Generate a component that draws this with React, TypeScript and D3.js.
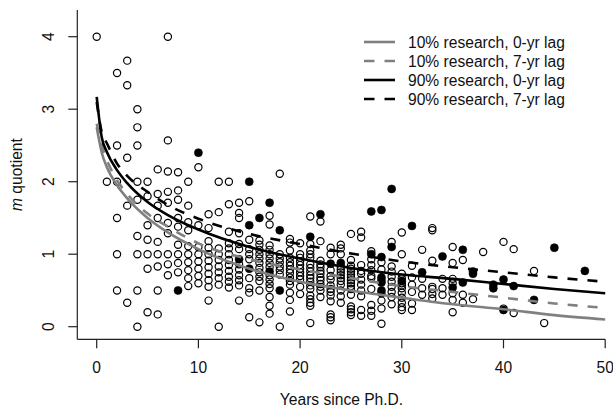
import React from "react";
import * as d3 from "d3";

// ---- data ----
const xTicks = [0, 10, 20, 30, 40, 50];
const yTicks = [0, 1, 2, 3, 4];

const openPoints: [number, number][] = [
  [0, 4.0], [1, 2.0],
  [2, 3.5], [2, 2.5], [2, 2.0], [2, 1.5], [2, 1.0], [2, 0.5],
  [3, 3.67], [3, 3.33], [3, 2.33], [3, 1.67], [3, 0.33],
  [4, 3.0], [4, 2.75], [4, 2.5], [4, 2.0], [4, 1.75], [4, 1.25], [4, 1.0], [4, 0.5], [4, 0.0],
  [5, 2.0], [5, 1.8], [5, 1.4], [5, 1.2], [5, 1.0], [5, 0.8], [5, 0.2],
  [6, 2.17], [6, 1.83], [6, 1.67], [6, 1.5], [6, 1.17], [6, 1.0], [6, 0.83], [6, 0.5], [6, 0.17],
  [7, 4.0], [7, 2.57], [7, 2.14], [7, 1.86], [7, 1.71], [7, 1.43], [7, 1.29], [7, 1.0], [7, 0.86], [7, 0.71],
  [8, 2.13], [8, 1.88], [8, 1.75], [8, 1.5], [8, 1.38], [8, 1.13], [8, 1.0], [8, 0.88], [8, 0.75],
  [9, 2.0], [9, 1.67], [9, 1.44], [9, 1.33], [9, 1.11], [9, 1.0], [9, 0.89], [9, 0.78], [9, 0.67], [9, 0.56],
  [10, 2.2], [10, 1.4], [10, 1.1], [10, 1.0], [10, 0.9], [10, 0.8], [10, 0.7], [10, 0.6],
  [11, 1.55], [11, 1.36], [11, 1.18], [11, 1.09], [11, 1.0], [11, 0.91], [11, 0.82], [11, 0.73], [11, 0.64], [11, 0.55], [11, 0.36],
  [12, 2.0], [12, 1.58], [12, 1.08], [12, 1.0], [12, 0.92], [12, 0.83], [12, 0.75], [12, 0.67], [12, 0.58], [12, 0.0],
  [13, 2.0], [13, 1.69], [13, 1.31], [13, 1.15], [13, 1.08], [13, 1.0], [13, 0.92], [13, 0.85], [13, 0.77], [13, 0.69], [13, 0.62], [13, 0.54],
  [14, 1.71], [14, 1.57], [14, 1.5], [14, 1.29], [14, 1.14], [14, 1.07], [14, 0.86], [14, 0.79], [14, 0.71], [14, 0.64], [14, 0.57], [14, 0.36],
  [15, 1.73], [15, 1.2], [15, 1.07], [15, 1.0], [15, 0.93], [15, 0.67], [15, 0.53], [15, 0.47], [15, 0.13],
  [16, 1.19], [16, 1.13], [16, 1.06], [16, 1.0], [16, 0.94], [16, 0.88], [16, 0.81], [16, 0.75], [16, 0.69], [16, 0.63], [16, 0.5], [16, 0.06],
  [17, 1.53], [17, 1.41], [17, 1.12], [17, 1.06], [17, 1.0], [17, 0.94], [17, 0.88], [17, 0.82], [17, 0.71], [17, 0.65], [17, 0.59], [17, 0.53], [17, 0.41], [17, 0.29], [17, 0.18],
  [18, 2.11], [18, 1.0], [18, 0.94], [18, 0.89], [18, 0.83], [18, 0.78], [18, 0.72], [18, 0.0],
  [19, 1.21], [19, 1.16], [19, 1.05], [19, 0.95], [19, 0.89], [19, 0.84], [19, 0.79], [19, 0.74], [19, 0.68], [19, 0.63], [19, 0.58], [19, 0.47], [19, 0.37], [19, 0.21],
  [20, 1.15], [20, 1.0], [20, 0.95], [20, 0.9], [20, 0.85], [20, 0.8], [20, 0.75], [20, 0.7], [20, 0.65], [20, 0.55], [20, 0.45],
  [21, 1.52], [21, 1.14], [21, 1.05], [21, 1.0], [21, 0.95], [21, 0.86], [21, 0.81], [21, 0.76], [21, 0.71], [21, 0.67], [21, 0.62], [21, 0.57], [21, 0.52], [21, 0.43], [21, 0.38], [21, 0.33], [21, 0.29], [21, 0.05],
  [22, 1.45], [22, 1.18], [22, 0.91], [22, 0.86], [22, 0.82], [22, 0.77], [22, 0.73], [22, 0.68], [22, 0.64], [22, 0.59], [22, 0.55], [22, 0.5], [22, 0.41],
  [23, 1.09], [23, 1.0], [23, 0.78], [23, 0.7], [23, 0.65], [23, 0.57], [23, 0.52], [23, 0.48], [23, 0.43], [23, 0.35], [23, 0.17], [23, 0.13], [23, 0.09],
  [24, 1.13], [24, 1.08], [24, 1.0], [24, 0.83], [24, 0.79], [24, 0.75], [24, 0.71], [24, 0.67], [24, 0.63], [24, 0.58], [24, 0.5], [24, 0.42], [24, 0.33],
  [25, 1.28], [25, 0.92], [25, 0.84], [25, 0.8], [25, 0.76], [25, 0.72], [25, 0.68], [25, 0.64], [25, 0.6], [25, 0.56], [25, 0.52], [25, 0.44], [25, 0.28], [25, 0.24], [25, 0.2], [25, 0.16],
  [26, 1.31], [26, 1.23], [26, 0.85], [26, 0.77], [26, 0.73], [26, 0.65], [26, 0.58], [26, 0.5], [26, 0.42], [26, 0.23], [26, 0.15],
  [27, 1.04], [27, 0.93], [27, 0.85], [27, 0.78], [27, 0.7], [27, 0.67], [27, 0.52], [27, 0.3], [27, 0.22], [27, 0.15],
  [28, 0.89], [28, 0.79], [28, 0.64], [28, 0.46], [28, 0.36], [28, 0.25], [28, 0.04],
  [29, 1.17], [29, 0.83], [29, 0.76], [29, 0.69], [29, 0.62], [29, 0.55], [29, 0.48], [29, 0.41], [29, 0.31],
  [30, 1.3], [30, 1.0], [30, 0.73], [30, 0.67], [30, 0.6], [30, 0.57], [30, 0.53], [30, 0.47], [30, 0.4], [30, 0.33], [30, 0.27], [30, 0.23],
  [31, 0.84], [31, 0.68], [31, 0.58], [31, 0.48], [31, 0.32], [31, 0.23],
  [32, 1.06], [32, 0.66], [32, 0.53], [32, 0.44],
  [33, 1.36], [33, 1.33], [33, 0.91], [33, 0.55], [33, 0.52], [33, 0.45], [33, 0.39],
  [34, 0.66], [34, 0.53], [34, 0.44],
  [35, 1.1], [35, 0.88], [35, 0.66], [35, 0.6], [35, 0.46], [35, 0.37], [35, 0.2],
  [36, 0.92], [36, 0.44], [36, 0.33],
  [37, 0.38], [38, 1.03], [40, 1.17], [40, 0.25], [41, 1.07], [41, 0.19], [43, 0.77], [44, 0.05],
];

const filledPoints: [number, number][] = [
  [8, 0.5], [10, 2.4], [14, 0.93], [15, 2.0], [15, 1.4], [15, 0.8], [16, 1.5],
  [17, 1.71], [17, 0.76], [18, 1.33], [18, 0.5], [21, 1.24], [22, 1.55],
  [23, 0.87], [24, 0.88], [27, 1.59], [27, 1.0], [28, 1.61], [28, 0.96],
  [28, 0.68], [28, 0.61], [28, 0.5], [29, 1.9], [29, 1.1], [30, 0.63],
  [31, 1.39], [32, 0.75], [34, 0.97], [35, 0.54], [36, 1.06], [36, 0.61],
  [37, 0.76], [37, 0.73], [39, 0.58], [39, 0.53], [40, 0.65], [40, 0.23],
  [41, 0.56], [43, 0.37], [45, 1.09], [48, 0.77],
];

const curveYears = [0, 0.5, 1, 2, 3, 5, 7, 10, 15, 20, 25, 30, 35, 40, 45, 50];
const gray0 = [2.75, 2.4, 2.2, 1.95, 1.77, 1.5, 1.3, 1.07, 0.8, 0.62, 0.5, 0.4, 0.31, 0.24, 0.16, 0.1];
const gray7 = [2.8, 2.5, 2.3, 2.02, 1.83, 1.56, 1.38, 1.15, 0.93, 0.79, 0.67, 0.56, 0.48, 0.4, 0.32, 0.26];
const black0 = [3.17, 2.61, 2.41, 2.16, 1.98, 1.72, 1.54, 1.34, 1.1, 0.94, 0.81, 0.72, 0.66, 0.59, 0.52, 0.46];
const black7 = [3.1, 2.68, 2.53, 2.25, 2.08, 1.86, 1.68, 1.49, 1.28, 1.14, 1.01, 0.9, 0.82, 0.75, 0.68, 0.62];

const seriesLabels = [
  "10% research, 0-yr lag",
  "10% research, 7-yr lag",
  "90% research, 0-yr lag",
  "90% research, 7-yr lag",
];
const seriesValues = [gray0, gray7, black0, black7];
const seriesColors = ["#808080", "#808080", "#000000", "#000000"];
const seriesDashed = [false, true, false, true];

export default function App() {
  const W = 613, H = 409;
  const x = d3.scaleLinear().domain([0, 50]).range([96.7, 605.2]);
  const y = d3.scaleLinear().domain([0, 4]).range([326.7, 36.7]);
  const axisY = 339.3, axisX = 77.3;
  const font = "Liberation Sans, Arial, sans-serif";
  const line = d3
    .line<number>()
    .x((_, i) => x(curveYears[i]))
    .y((d) => y(d))
    .curve(d3.curveMonotoneX);

  return (
    <svg width={W} height={H} style={{ position: "absolute", left: 0, top: 0, background: "#fff" }} fontFamily={font}>
      {/* axes */}
      <line x1={axisX} x2={axisX} y1={10} y2={axisY} stroke="#222" strokeWidth={1.2} />
      <line x1={axisX} x2={x(50)} y1={axisY} y2={axisY} stroke="#222" strokeWidth={1.2} />
      {xTicks.map((t) => (
        <g key={"xt" + t}>
          <line x1={x(t)} x2={x(t)} y1={axisY} y2={axisY + 9} stroke="#222" strokeWidth={1.2} />
          <text x={x(t)} y={372.5} textAnchor="middle" fontSize={15.6} fill="#111">{t}</text>
        </g>
      ))}
      {yTicks.map((t) => (
        <g key={"yt" + t}>
          <line x1={axisX - 9} x2={axisX} y1={y(t)} y2={y(t)} stroke="#222" strokeWidth={1.2} />
          <text transform={`translate(54,${y(t)}) rotate(-90)`} textAnchor="middle" fontSize={15.6} fill="#111">{t}</text>
        </g>
      ))}
      <text x={341.5} y={405} textAnchor="middle" fontSize={15.6} fill="#111">Years since Ph.D.</text>
      <text transform={`translate(22,174.6) rotate(-90)`} textAnchor="middle" fontSize={15.6} fill="#111">
        <tspan fontStyle="italic">m</tspan> quotient
      </text>

      {/* points */}
      {openPoints.map((p, i) => (
        <circle key={"o" + i} cx={x(p[0])} cy={y(p[1])} r={3.6} fill="none" stroke="#000" strokeWidth={1.2} />
      ))}
      {filledPoints.map((p, i) => (
        <circle key={"f" + i} cx={x(p[0])} cy={y(p[1])} r={4.0} fill="#000" stroke="#000" strokeWidth={0.6} />
      ))}

      {/* curves */}
      {seriesValues.map((vals, i) => (
        <path key={"c" + i} d={line(vals) || ""} fill="none" stroke={seriesColors[i]} strokeWidth={2.6}
          strokeDasharray={seriesDashed[i] ? "10,10" : undefined} />
      ))}

      {/* legend */}
      {seriesLabels.map((lab, i) => {
        const ly = 42 + i * 19;
        return (
          <g key={"l" + i}>
            <line x1={364} x2={395} y1={ly} y2={ly} stroke={seriesColors[i]} strokeWidth={2.6}
              strokeDasharray={seriesDashed[i] ? "10.5,10" : undefined} />
            <text x={408} y={ly + 5.5} fontSize={15.6} fill="#111">{lab}</text>
          </g>
        );
      })}
    </svg>
  );
}
